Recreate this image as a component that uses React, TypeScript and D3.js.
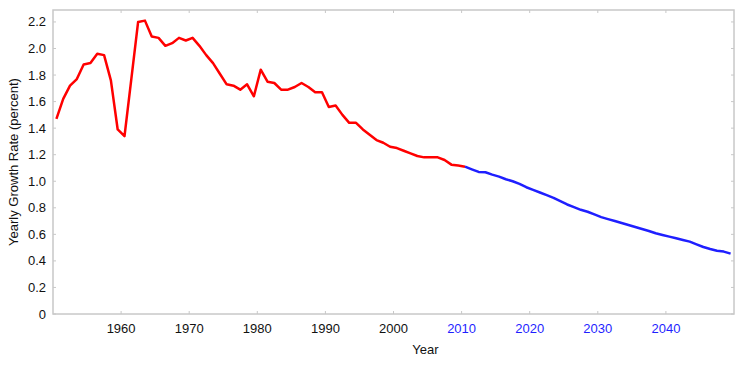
import React from "react";
import { scaleLinear, line, range, format } from "d3";

// world population growth rate, percent per year
const pastYears = range(1950, 2011);
const pastRates = [
  1.47, 1.62, 1.72, 1.77, 1.88, 1.89, 1.96, 1.95, 1.76, 1.39,
  1.34, 1.77, 2.2, 2.21, 2.09, 2.08, 2.02, 2.04, 2.08, 2.06,
  2.08, 2.02, 1.95, 1.89, 1.81, 1.73, 1.72, 1.69, 1.73, 1.64,
  1.84, 1.75, 1.74, 1.69, 1.69, 1.71, 1.74, 1.71, 1.67, 1.67,
  1.56, 1.57, 1.5, 1.44, 1.44, 1.39, 1.35, 1.31, 1.29, 1.26,
  1.25, 1.23, 1.21, 1.19, 1.18, 1.18, 1.18, 1.16, 1.125, 1.118,
  1.11,
];

const projYears = range(2010, 2050);
const projRates = [
  1.11, 1.09, 1.07, 1.068, 1.05, 1.035, 1.015, 1.0, 0.98, 0.955,
  0.935, 0.915, 0.895, 0.875, 0.85, 0.825, 0.805, 0.785, 0.77, 0.75,
  0.73, 0.715, 0.7, 0.685, 0.67, 0.655, 0.64, 0.625, 0.608, 0.595,
  0.583, 0.57, 0.557, 0.545, 0.525, 0.505, 0.49, 0.477, 0.47, 0.455,
];

const xTicks = [1960, 1970, 1980, 1990, 2000, 2010, 2020, 2030, 2040];
const yTicks = range(0, 2.21, 0.2);

const width = 754;
const height = 369;
const margin = { top: 10, right: 20, bottom: 55, left: 53 };
const innerWidth = width - margin.left - margin.right;
const innerHeight = height - margin.top - margin.bottom;

const RED = "#ff0000";
const BLUE = "#1f1fff";
const FRAME = "#c8c8c8";
const font = "'Liberation Sans', Arial, Helvetica, sans-serif";

const App = () => {
  const xScale = scaleLinear().domain([1950, 2050]).range([0, innerWidth]);
  const yScale = scaleLinear().domain([0, 2.29]).range([innerHeight, 0]);

  // values are yearly averages, plotted at mid-year
  const lineGen = line<[number, number]>()
    .x((d) => xScale(d[0] + 0.5))
    .y((d) => yScale(d[1]));

  const past = pastYears.map((y, i) => [y, pastRates[i]] as [number, number]);
  const proj = projYears.map((y, i) => [y, projRates[i]] as [number, number]);

  const yFmt = (v: number) => (v === 0 ? "0" : format(".1f")(v));

  return (
    <svg
      width={width}
      height={height}
      style={{ position: "absolute", left: 0, top: 0, background: "#fff" }}
      fontFamily={font}
    >
      <g transform={`translate(${margin.left},${margin.top})`}>
        {/* frame */}
        <rect
          x={0}
          y={0}
          width={innerWidth}
          height={innerHeight}
          fill="none"
          stroke={FRAME}
          strokeWidth={1.5}
        />
        {xTicks.map((t) => (
          <g key={t}>
            <line x1={xScale(t)} x2={xScale(t)} y1={innerHeight} y2={innerHeight - 3} stroke={FRAME} />
            <line x1={xScale(t)} x2={xScale(t)} y1={0} y2={3} stroke={FRAME} />
            <text
              x={xScale(t)}
              y={innerHeight + 19}
              textAnchor="middle"
              fontSize={13}
              fill={t >= 2010 ? BLUE : "#111"}
            >
              {t}
            </text>
          </g>
        ))}
        {yTicks.map((t) => (
          <g key={t}>
            <line x1={0} x2={3} y1={yScale(t)} y2={yScale(t)} stroke={FRAME} />
            <line x1={innerWidth} x2={innerWidth - 3} y1={yScale(t)} y2={yScale(t)} stroke={FRAME} />
            <text
              x={-7}
              y={yScale(t)}
              dy="0.35em"
              textAnchor="end"
              fontSize={13}
              fill="#111"
            >
              {yFmt(t)}
            </text>
          </g>
        ))}
        <path d={lineGen(past) || ""} fill="none" stroke={RED} strokeWidth={2.5} strokeLinejoin="round" />
        <path d={lineGen(proj) || ""} fill="none" stroke={BLUE} strokeWidth={2.5} strokeLinejoin="round" />
        <text
          x={(xScale(1950) + xScale(2050)) / 2 + 32}
          y={innerHeight + 40}
          textAnchor="middle"
          fontSize={13}
          fill="#111"
        >
          Year
        </text>
        <text
          transform={`translate(${-35.5},${innerHeight / 2}) rotate(-90)`}
          textAnchor="middle"
          fontSize={13}
          fill="#111"
        >
          Yearly Growth Rate (percent)
        </text>
      </g>
    </svg>
  );
};

export default App;
